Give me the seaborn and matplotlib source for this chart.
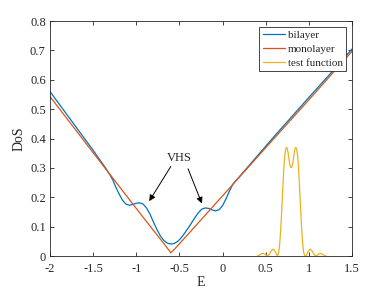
import numpy as np
import pandas as pd
import matplotlib
matplotlib.use("Agg")
import matplotlib.pyplot as plt
import seaborn as sns

bilayer_E = [-2.0, -1.9, -1.8, -1.7, -1.6, -1.5, -1.4, -1.35, -1.3, -1.27, -1.24, -1.2, -1.16, -1.12,
             -1.08, -1.04, -1.0, -0.96, -0.92, -0.88, -0.84, -0.80, -0.76, -0.72, -0.68, -0.64, -0.60,
             -0.56, -0.52, -0.48, -0.44, -0.40, -0.36, -0.32, -0.28, -0.24, -0.20, -0.16, -0.12, -0.08,
             -0.04, 0.0, 0.04, 0.08, 0.12, 0.2, 0.4, 0.6, 0.8, 1.0, 1.2, 1.4, 1.5]
bilayer_D = [0.560, 0.520, 0.480, 0.440, 0.400, 0.360, 0.318, 0.297, 0.274, 0.258, 0.236, 0.212, 0.190,
             0.177, 0.173, 0.176, 0.180, 0.181, 0.177, 0.163, 0.142, 0.115, 0.090, 0.068, 0.053, 0.044,
             0.041, 0.043, 0.050, 0.062, 0.078, 0.095, 0.113, 0.131, 0.148, 0.160, 0.164, 0.162, 0.157,
             0.154, 0.158, 0.172, 0.195, 0.222, 0.245, 0.272, 0.340, 0.408, 0.474, 0.540, 0.605, 0.671,
             0.705]

mono_E = [-2.0, -1.5, -1.0, -0.8, -0.7, -0.65, -0.62, -0.6, -0.58, -0.55, -0.5, -0.3, 0.0, 0.5, 1.0, 1.5]
mono_D = [0.543, 0.352, 0.162, 0.087, 0.050, 0.031, 0.019, 0.011, 0.017, 0.026, 0.042, 0.107, 0.205,
          0.369, 0.532, 0.697]

test_E = [0.40, 0.42, 0.44, 0.46, 0.48, 0.50, 0.52, 0.54, 0.56, 0.58, 0.60, 0.62, 0.635, 0.65, 0.66,
          0.67, 0.68, 0.69, 0.70, 0.71, 0.72, 0.73, 0.74, 0.75, 0.76, 0.77, 0.78, 0.79, 0.80, 0.81,
          0.82, 0.83, 0.84, 0.85, 0.86, 0.87, 0.88, 0.89, 0.90, 0.91, 0.92, 0.93, 0.94, 0.95, 0.965,
          0.98, 1.00, 1.02, 1.04, 1.06, 1.08, 1.10, 1.12, 1.14, 1.16, 1.18, 1.20]
test_D = [0.000, 0.002, 0.006, 0.009, 0.008, 0.004, 0.000, 0.006, 0.016, 0.023, 0.020, 0.009, 0.000,
          0.012, 0.035, 0.075, 0.125, 0.185, 0.245, 0.300, 0.340, 0.362, 0.370, 0.366, 0.350, 0.328,
          0.310, 0.302, 0.302, 0.310, 0.328, 0.350, 0.366, 0.370, 0.362, 0.340, 0.300, 0.245, 0.185,
          0.125, 0.075, 0.035, 0.012, 0.002, 0.000, 0.008, 0.020, 0.023, 0.016, 0.006, 0.000, 0.004,
          0.008, 0.009, 0.006, 0.002, 0.000]

labels = ["bilayer", "monolayer", "test function"]
colors = ["#0072BD", "#D95319", "#EDB120"]

df = pd.concat([
    pd.DataFrame({"E": bilayer_E, "DoS": bilayer_D, "series": labels[0]}),
    pd.DataFrame({"E": mono_E, "DoS": mono_D, "series": labels[1]}),
    pd.DataFrame({"E": test_E, "DoS": test_D, "series": labels[2]}),
])

sns.set_style("ticks")
plt.rcParams["font.family"] = ["Liberation Serif", "DejaVu Serif"]

fig = plt.figure(figsize=(3.89, 2.92), dpi=100)
ax = fig.add_axes([0.1285, 0.123, 0.7765, 0.805])

sns.lineplot(data=df, x="E", y="DoS", hue="series", palette=dict(zip(labels, colors)),
             sort=False, estimator=None, lw=0.9, ax=ax)

ax.set_xlim(-2, 1.5)
ax.set_ylim(0, 0.8)
ax.set_xticks([-2, -1.5, -1, -0.5, 0, 0.5, 1, 1.5])
ax.set_xticklabels(["-2", "-1.5", "-1", "-0.5", "0", "0.5", "1", "1.5"])
ax.set_yticks(np.arange(0, 0.81, 0.1))
ax.set_yticklabels(["0", "0.1", "0.2", "0.3", "0.4", "0.5", "0.6", "0.7", "0.8"])
ax.tick_params(direction="in", top=True, right=True, labelsize=9, length=3, width=0.6,
               colors="#262626", pad=3)
ax.tick_params(axis="x", pad=5)
for s in ax.spines.values():
    s.set_linewidth(0.6)
    s.set_color("#262626")
ax.set_xlabel("E", fontsize=10, labelpad=1)
ax.set_ylabel("DoS", fontsize=10, labelpad=3)

leg = ax.legend(loc="upper right", fontsize=8, frameon=True, fancybox=False, edgecolor="#262626",
                framealpha=1, borderaxespad=0.5, handlelength=2.0, handletextpad=0.2,
                labelspacing=0.35, borderpad=0.35, title=None)
leg.get_frame().set_linewidth(0.6)

ax.text(-0.505, 0.333, "VHS", ha="center", va="center", fontsize=9)
ax.annotate("", xy=(-0.85, 0.187), xytext=(-0.60, 0.305),
            arrowprops=dict(arrowstyle="-|>", color="black", lw=0.7, mutation_scale=9,
                            shrinkA=0, shrinkB=0))
ax.annotate("", xy=(-0.24, 0.179), xytext=(-0.40, 0.297),
            arrowprops=dict(arrowstyle="-|>", color="black", lw=0.7, mutation_scale=9,
                            shrinkA=0, shrinkB=0))

fig.savefig("out.png", dpi=100)
